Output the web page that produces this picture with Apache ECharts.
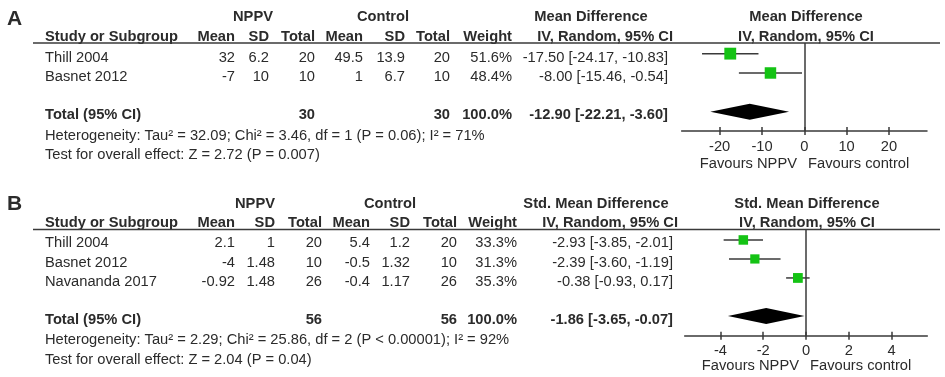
<!DOCTYPE html>
<html>
<head>
<meta charset="utf-8">
<script src="https://cdn.jsdelivr.net/npm/echarts@6/dist/echarts.min.js"></script>
<style>
html,body{margin:0;padding:0;background:#fff;}
#chart{width:945px;height:377px;}
</style>
</head>
<body>
<div id="chart"></div>
<script>
// A - mean difference
const studiesA = ['Thill 2004', 'Basnet 2012'];
const nppvMeanA = [32, -7];
const nppvSdA = [6.2, 10];
const nppvTotalA = [20, 10];
const ctrlMeanA = [49.5, 1];
const ctrlSdA = [13.9, 6.7];
const ctrlTotalA = [20, 10];
const weightA = [51.6, 48.4];
const estA = [-17.50, -8.00];
const lowA = [-24.17, -15.46];
const highA = [-10.83, -0.54];
const pooledA = [-12.90, -22.21, -3.60];
const hetA = 'Heterogeneity: Tau² = 32.09; Chi² = 3.46, df = 1 (P = 0.06); I² = 71%';
const testA = 'Test for overall effect: Z = 2.72 (P = 0.007)';
const ticksA = [-20, -10, 0, 10, 20];

// B - std. mean difference
const studiesB = ['Thill 2004', 'Basnet 2012', 'Navananda 2017'];
const nppvMeanB = [2.1, -4, -0.92];
const nppvSdB = [1, 1.48, 1.48];
const nppvTotalB = [20, 10, 26];
const ctrlMeanB = [5.4, -0.5, -0.4];
const ctrlSdB = [1.2, 1.32, 1.17];
const ctrlTotalB = [20, 10, 26];
const weightB = [33.3, 31.3, 35.3];
const estB = [-2.93, -2.39, -0.38];
const lowB = [-3.85, -3.60, -0.93];
const highB = [-2.01, -1.19, 0.17];
const pooledB = [-1.86, -3.65, -0.07];
const hetB = 'Heterogeneity: Tau² = 2.29; Chi² = 25.86, df = 2 (P < 0.00001); I² = 92%';
const testB = 'Test for overall effect: Z = 2.04 (P = 0.04)';
const ticksB = [-4, -2, 0, 2, 4];

const FONT = '"Liberation Sans", Arial, sans-serif';
const FS = 14.7;
const INK = '#2b2b2b';
const LINE = '#3a3a3a';

const chart = echarts.init(document.getElementById('chart'));

function txt(x, y, s, align, bold, size) {
  return {
    type: 'text', silent: true,
    style: {
      text: String(s), x: x, y: y,
      font: (bold ? 'bold ' : '') + (size || FS) + 'px ' + FONT,
      fill: INK,
      align: align || 'left', verticalAlign: 'middle',
      textAlign: align || 'left', textVerticalAlign: 'middle'
    }
  };
}
function ci(e, l, h) {
  return e.toFixed(2) + ' [' + l.toFixed(2) + ', ' + h.toFixed(2) + ']';
}
function sum(a) { return a.reduce((p, c) => p + c, 0); }

// table text for one panel
function tableText(p) {
  const g = [];
  g.push(txt(7, p.yLetter, p.letter, 'left', true, 21));
  g.push(txt(p.cGroup[0], p.yGroup, 'NPPV', 'center', true));
  g.push(txt(p.cGroup[1], p.yGroup, 'Control', 'center', true));
  g.push(txt(p.cGroup[2], p.yGroup, p.measure, 'center', true));
  g.push(txt(p.cGroup[3], p.yGroup, p.measure, 'center', true));
  g.push(txt(45, p.yHead, 'Study or Subgroup', 'left', true));
  const heads = ['Mean', 'SD', 'Total', 'Mean', 'SD', 'Total', 'Weight'];
  heads.forEach((h, i) => g.push(txt(p.cols[i], p.yHead, h, 'right', true)));
  g.push(txt(p.cols[7] + 5, p.yHead, 'IV, Random, 95% CI', 'right', true));
  g.push(txt(p.cGroup[3], p.yHead, 'IV, Random, 95% CI', 'center', true));
  g.push({
    type: 'line', silent: true,
    shape: { x1: 33, y1: p.yLine, x2: 940, y2: p.yLine },
    style: { stroke: LINE, lineWidth: 1.5 }
  });
  p.studies.forEach((s, i) => {
    const y = p.yRows[i];
    const vals = [p.nm[i], p.ns[i], p.nt[i], p.cm[i], p.cs[i], p.ct[i], p.w[i].toFixed(1) + '%',
      ci(p.est[i], p.lo[i], p.hi[i])];
    g.push(txt(45, y, s, 'left', false));
    vals.forEach((v, j) => g.push(txt(p.cols[j], y, v, 'right', false)));
  });
  g.push(txt(45, p.yTotal, 'Total (95% CI)', 'left', true));
  g.push(txt(p.cols[2], p.yTotal, sum(p.nt), 'right', true));
  g.push(txt(p.cols[5], p.yTotal, sum(p.ct), 'right', true));
  g.push(txt(p.cols[6], p.yTotal, '100.0%', 'right', true));
  g.push(txt(p.cols[7], p.yTotal, ci(p.pooled[0], p.pooled[1], p.pooled[2]), 'right', true));
  g.push(txt(45, p.yHet, p.het, 'left', false));
  g.push(txt(45, p.yTest, p.test, 'left', false));
  g.push(txt(p.zero - 7, p.yFav, 'Favours NPPV', 'right', false));
  g.push(txt(p.zero + 4, p.yFav, 'Favours control', 'left', false));
  return g;
}

const graphic = [].concat(
  tableText({
    letter: 'A', measure: 'Mean Difference', studies: studiesA,
    nm: nppvMeanA, ns: nppvSdA, nt: nppvTotalA, cm: ctrlMeanA, cs: ctrlSdA, ct: ctrlTotalA,
    w: weightA, est: estA, lo: lowA, hi: highA, pooled: pooledA, het: hetA, test: testA,
    cols: [235, 269, 315, 363, 405, 450, 512, 668],
    cGroup: [253, 383, 591, 806],
    yLetter: 19, yGroup: 17, yHead: 37, yLine: 43,
    yRows: [57.5, 77], yTotal: 115, yHet: 135.5, yTest: 155, yFav: 163.5, zero: 804
  }),
  tableText({
    letter: 'B', measure: 'Std. Mean Difference', studies: studiesB,
    nm: nppvMeanB, ns: nppvSdB, nt: nppvTotalB, cm: ctrlMeanB, cs: ctrlSdB, ct: ctrlTotalB,
    w: weightB, est: estB, lo: lowB, hi: highB, pooled: pooledB, het: hetB, test: testB,
    cols: [235, 275, 322, 370, 410, 457, 517, 673],
    cGroup: [255, 390, 596, 807],
    yLetter: 204.5, yGroup: 203.5, yHead: 223, yLine: 229.5,
    yRows: [243, 262.5, 282], yTotal: 320, yHet: 340, yTest: 359.5, yFav: 366, zero: 806
  })
);

function studyItem(k) {
  return function (params, api) {
    const y = api.value(3);
    const a = api.coord([api.value(1), y]);
    const b = api.coord([api.value(2), y]);
    const c = api.coord([api.value(0), y]);
    const s = k * Math.sqrt(api.value(4));
    return {
      type: 'group', children: [
        { type: 'line', shape: { x1: a[0], y1: a[1], x2: b[0], y2: b[1] }, style: { stroke: LINE, lineWidth: 1.5 } },
        { type: 'rect', shape: { x: c[0] - s / 2, y: c[1] - s / 2, width: s, height: s }, style: { fill: '#14c314' } }
      ]
    };
  };
}
function diamondItem(params, api) {
  const y = api.value(3);
  const a = api.coord([api.value(1), y]);
  const b = api.coord([api.value(2), y]);
  const c = api.coord([api.value(0), y]);
  return {
    type: 'polygon',
    shape: { points: [[a[0], c[1]], [c[0], c[1] - 8], [b[0], c[1]], [c[0], c[1] + 8]] },
    style: { fill: '#000' }
  };
}
function studyData(est, lo, hi, w) {
  return est.map((e, i) => [e, lo[i], hi[i], i + 1, w[i]]);
}

function axisPair(grid, min, max, ticks) {
  return [
    {
      gridIndex: grid, type: 'value', min: min, max: max, position: 'bottom',
      axisLine: { show: true, onZero: false, lineStyle: { color: LINE, width: 1.5 } },
      axisTick: { show: true, customValues: ticks, length: 4, lineStyle: { color: LINE, width: 1.5 } },
      axisLabel: { customValues: ticks, color: INK, fontSize: FS, fontFamily: FONT, margin: 8 },
      splitLine: { show: false }
    },
    {
      gridIndex: grid, type: 'value', min: min, max: max, position: 'bottom', offset: 0,
      axisLine: { show: false },
      axisTick: { show: true, inside: true, customValues: ticks, length: 4, lineStyle: { color: LINE, width: 1.5 } },
      axisLabel: { show: false },
      splitLine: { show: false }
    }
  ];
}

const zeroLine = {
  silent: true, symbol: ['none', 'none'], label: { show: false },
  lineStyle: { color: LINE, width: 1.5, type: 'solid' },
  data: [{ xAxis: 0 }]
};

chart.setOption({
  animation: false,
  graphic: graphic,
  grid: [
    { left: 681.6, top: 43, width: 245.4, height: 88 },
    { left: 684.7, top: 229.5, width: 242.6, height: 106.2 }
  ],
  xAxis: axisPair(0, -29, 29, ticksA).concat(axisPair(1, -5.67, 5.67, ticksB)),
  yAxis: [
    { gridIndex: 0, type: 'value', inverse: true, min: 0.45, max: 5.0, show: false },
    { gridIndex: 1, type: 'value', inverse: true, min: 0.45, max: 6.04, show: false }
  ],
  series: [
    {
      type: 'custom', xAxisIndex: 0, yAxisIndex: 0, renderItem: studyItem(1.65),
      encode: { x: [0, 1, 2], y: 3 }, data: studyData(estA, lowA, highA, weightA),
      markLine: zeroLine
    },
    {
      type: 'custom', xAxisIndex: 0, yAxisIndex: 0, renderItem: diamondItem,
      encode: { x: [0, 1, 2], y: 3 }, data: [pooledA.concat([studiesA.length + 2])]
    },
    {
      type: 'custom', xAxisIndex: 2, yAxisIndex: 1, renderItem: studyItem(1.65),
      encode: { x: [0, 1, 2], y: 3 }, data: studyData(estB, lowB, highB, weightB),
      markLine: zeroLine
    },
    {
      type: 'custom', xAxisIndex: 2, yAxisIndex: 1, renderItem: diamondItem,
      encode: { x: [0, 1, 2], y: 3 }, data: [pooledB.concat([studiesB.length + 2])]
    }
  ]
});
</script>
</body>
</html>
